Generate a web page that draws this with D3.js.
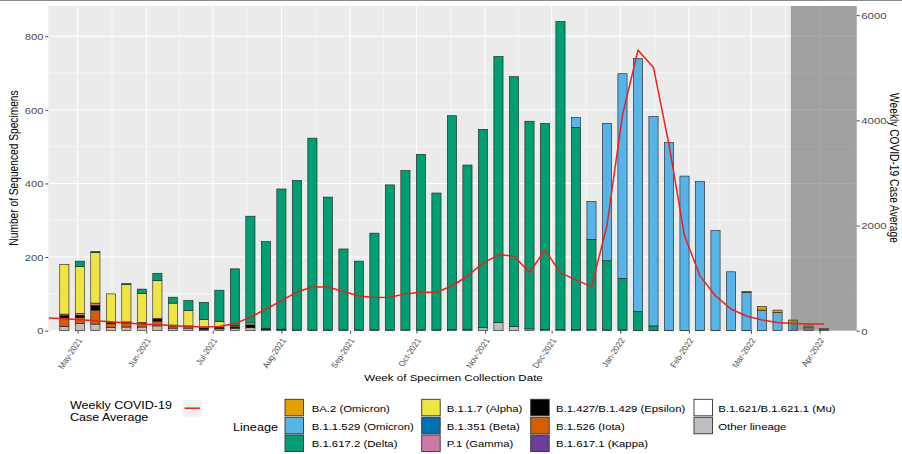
<!DOCTYPE html>
<html><head><meta charset="utf-8">
<script src="https://cdn.jsdelivr.net/npm/d3@7"></script>
<style>
body{margin:0;background:#fff}
svg{display:block}
text{font-family:"Liberation Sans",Arial,Helvetica,sans-serif}
</style>
</head><body>
<svg id="c" width="902" height="454"></svg>
<script>
// ---------------- DATA ----------------
const weeks = ["2021-04-25","2021-05-02","2021-05-09","2021-05-16","2021-05-23","2021-05-30","2021-06-06","2021-06-13","2021-06-20","2021-06-27",
"2021-07-04","2021-07-11","2021-07-18","2021-07-25","2021-08-01","2021-08-08","2021-08-15","2021-08-22","2021-08-29","2021-09-05",
"2021-09-12","2021-09-19","2021-09-26","2021-10-03","2021-10-10","2021-10-17","2021-10-24","2021-10-31","2021-11-07","2021-11-14",
"2021-11-21","2021-11-28","2021-12-05","2021-12-12","2021-12-19","2021-12-26","2022-01-02","2022-01-09","2022-01-16","2022-01-23",
"2022-01-30","2022-02-06","2022-02-13","2022-02-20","2022-02-27","2022-03-06","2022-03-13","2022-03-20","2022-03-27","2022-04-03"];
const caseWeeks = ["2021-04-18"].concat(weeks);

const lineages = ["BA.2 (Omicron)","B.1.1.529 (Omicron)","B.1.617.2 (Delta)","B.1.1.7 (Alpha)","B.1.351 (Beta)","P.1 (Gamma)",
"B.1.427/B.1.429 (Epsilon)","B.1.526 (Iota)","B.1.617.1 (Kappa)","B.1.621/B.1.621.1 (Mu)","Other lineage"];
const lineageColors = ["#E69F00","#56B4E9","#009E73","#F0E442","#0072B2","#CC79A7","#000000","#D55E00","#6A3D9A","#FFFFFF","#BEBEBE"];

const ba2      = [0,0,0,0,0,0,0,0,0,0, 0,0,0,0,0,0,0,0,0,0, 0,0,0,0,0,0,0,0,0,0, 0,0,0,0,0,0,0,0,0,0, 0,0,0,0,2,10,7,9,5,3];
const omicron  = [0,0,0,0,0,0,0,0,0,0, 0,0,0,0,0,0,0,0,0,0, 0,0,0,0,0,0,0,0,0,0, 0,0,0,27,103,373,556,687,569,510, 419,404,271,159,103,56,49,20,8,3];
const delta    = [0,15,3,0,3,12,20,16,27,47, 85,154,290,236,381,406,521,361,220,187, 263,394,433,477,372,581,447,539,723,678, 564,560,837,549,245,188,140,51,12,0, 0,0,0,0,0,0,0,0,0,0];
const alpha    = [135,127,137,77,101,79,103,60,42,22, 15,3,5,0,0,0,0,0,0,0, 0,0,0,0,0,0,0,0,0,0, 0,0,0,0,0,0,0,0,0,0, 0,0,0,0,0,0,0,0,0,0];
const beta     = new Array(50).fill(0);
const gamma    = [4,5,6,1,1,0,1,0,0,0, 0,0,0,0,0,0,0,0,0,0, 0,0,0,0,0,0,0,0,0,0, 0,0,0,0,0,0,0,0,0,0, 0,0,0,0,0,0,0,0,0,0];
const epsilon  = [7,6,13,3,3,2,6,2,2,4, 3,3,8,3,2,0,0,0,0,0, 0,0,0,0,0,0,0,0,0,0, 0,0,0,0,0,0,0,0,0,0, 0,0,0,0,0,0,0,0,0,0];
const iota     = [22,16,38,10,10,10,13,6,4,0, 2,2,0,0,0,0,0,0,0,0, 0,0,0,0,0,0,0,0,0,0, 0,0,0,0,0,0,0,0,0,0, 0,0,0,0,0,0,0,0,0,0];
const kappa    = new Array(50).fill(0);
const mu       = new Array(50).fill(0);
const other    = [12,20,18,9,10,10,13,7,7,4, 5,6,8,3,2,2,2,2,2,2, 2,2,2,2,2,3,3,8,22,12, 5,3,3,3,3,2,2,1,1,1, 1,1,1,1,1,0,0,0,0,0];

const cases = [240,225,207,188,168,148,128,112,98,80, 68,78,135,255,413,566,737,832,832,745,
660,632,636,700,731,731,850,1040,1284,1442, 1420,1105,1537,1099,966,838,2000,4100,5333,5004,
3537,1804,1042,661,413,280,204,156,137,128, 128];

const yTicks = [0,200,400,600,800];
const yMinor = [100,300,500,700];
const y2Ticks = [0,2000,4000,6000];
const xTickDates = ["2021-05-01","2021-06-01","2021-07-01","2021-08-01","2021-09-01","2021-10-01","2021-11-01","2021-12-01","2022-01-01","2022-02-01","2022-03-01","2022-04-01"];
const shadeStart = "2022-03-19";

// ---------------- LAYOUT ----------------
const SX = 1.17; // horizontal stretch of text in the reference
const pL=48.3, pR=856.7, pT=6, pB=330.7;
const parse = d3.timeParse("%Y-%m-%d");
const seriesByLineage = [ba2, omicron, delta, alpha, beta, gamma, epsilon, iota, kappa, mu, other];

const svg = d3.select("#c");
svg.append("rect").attr("width",902).attr("height",454).attr("fill","#fff");
svg.append("line").attr("x1",0).attr("x2",902).attr("y1",0.5).attr("y2",0.5).attr("stroke","#8a8a8a").attr("stroke-width",1.2);

const x = d3.scaleTime().domain([new Date(2021,3,17,18), new Date(2022,3,17,18)]).range([pL,pR]);
const y = d3.scaleLinear().domain([0,882]).range([pB,pT]);
const y2 = d3.scaleLinear().domain([0,882*7]).range([pB,pT]);

// panel
svg.append("rect").attr("x",pL).attr("y",pT).attr("width",pR-pL).attr("height",pB-pT).attr("fill","#EBEBEB");
const grid = svg.append("g");
const xt = xTickDates.map(parse);
const xMinor = [];
for (let i=0;i<xt.length-1;i++) xMinor.push(new Date((+xt[i] + +xt[i+1])/2));
xMinor.push(new Date(+xt[xt.length-1] + (+xt[xt.length-1] - +xt[xt.length-2])/2));
grid.selectAll(".hm").data(yMinor).join("line").attr("x1",pL).attr("x2",pR).attr("y1",d=>y(d)).attr("y2",d=>y(d)).attr("stroke","#fff").attr("stroke-width",0.55);
grid.selectAll(".vm").data(xMinor.filter(d=>x(d)>pL&&x(d)<pR)).join("line").attr("x1",d=>x(d)).attr("x2",d=>x(d)).attr("y1",pT).attr("y2",pB).attr("stroke","#fff").attr("stroke-width",0.55);
grid.selectAll(".hM").data(yTicks).join("line").attr("x1",pL).attr("x2",pR).attr("y1",d=>y(d)).attr("y2",d=>y(d)).attr("stroke","#fff").attr("stroke-width",1.1);
grid.selectAll(".vM").data(xt).join("line").attr("x1",d=>x(d)).attr("x2",d=>x(d)).attr("y1",pT).attr("y2",pB).attr("stroke","#fff").attr("stroke-width",1.1);

// bars
const stackOrder = d3.range(lineages.length).reverse(); // Other at bottom
const segs = [];
weeks.forEach((w,i)=>{
  const d = parse(w);
  let cum = 0;
  stackOrder.forEach(li=>{
    const v = seriesByLineage[li][i];
    if (v>0){ segs.push({d, y0:cum, y1:cum+v, c:lineageColors[li]}); cum+=v; }
  });
});
const bw = d=> x(new Date(+d + 4.15*864e5)) - x(d);
svg.append("g").selectAll("rect").data(segs).join("rect")
  .attr("x",s=>x(s.d)-bw(s.d)/2).attr("width",s=>bw(s.d))
  .attr("y",s=>y(s.y1)).attr("height",s=>y(s.y0)-y(s.y1))
  .attr("fill",s=>s.c).attr("stroke","#1a1a1a").attr("stroke-width",0.6);

// shaded region
svg.append("rect").attr("x",x(parse(shadeStart))).attr("y",pT).attr("width",pR-x(parse(shadeStart))).attr("height",pB-pT)
  .attr("fill","#555").attr("fill-opacity",0.5);

// case line
const line = d3.line().x((d,i)=>x(parse(caseWeeks[i]))).y(d=>y2(d));
svg.append("path").datum(cases).attr("d",line).attr("fill","none").attr("stroke","#f01e1e").attr("stroke-width",1.5).attr("stroke-linejoin","round");

// axes
function styleAxis(g){
  g.select(".domain").remove();
  g.selectAll(".tick line").attr("stroke","#333").attr("stroke-width",0.9);
  g.selectAll(".tick text").attr("fill","#4D4D4D");
}
const ax = svg.append("g").attr("transform",`translate(${pL},0)`).call(d3.axisLeft(y).tickValues(yTicks).tickSize(3).tickFormat(d3.format("d")));
styleAxis(ax);
ax.selectAll(".tick text").attr("x",0).attr("dy","0.34em").attr("font-size",9.6).attr("transform",`translate(-4.8,0) scale(${SX},1)`);

const ax2 = svg.append("g").attr("transform",`translate(${pR},0)`).call(d3.axisRight(y2).tickValues(y2Ticks).tickSize(3).tickFormat(d3.format("d")));
styleAxis(ax2);
ax2.selectAll(".tick text").attr("x",0).attr("dy","0.34em").attr("font-size",9.8).attr("transform",`translate(4.5,0) scale(${SX},1)`);

const axb = svg.append("g").attr("transform",`translate(0,${pB})`).call(d3.axisBottom(x).tickValues(xt).tickSize(3).tickFormat(d3.timeFormat("%b-%Y")));
styleAxis(axb);
axb.selectAll(".tick text").attr("x",0).attr("y",0).attr("dy",null).attr("text-anchor","end").attr("font-size",7.6)
  .attr("transform",`translate(4.5,9.5) scale(${SX},1) rotate(-60)`);

// titles
function stxt(x0,y0,s,size,anchor,rot){
  return svg.append("text").attr("transform",`translate(${x0},${y0}) scale(${SX},1)` + (rot?` rotate(${rot})`:""))
    .attr("font-size",size).attr("text-anchor",anchor||"start").attr("fill","#000").text(s);
}
stxt(453.5,381,"Week of Specimen Collection Date",9.9,"middle");
stxt(17.5,168,"Number of Sequenced Specimens",10.2,"middle",-90);
stxt(889.5,168,"Weekly COVID-19 Case Average",10.2,"middle",90);

// legend: case line
stxt(70,409,"Weekly COVID-19",10.7);
stxt(70,421,"Case Average",10.7);
svg.append("rect").attr("x",182.7).attr("y",400).attr("width",19).attr("height",16.7).attr("fill","#F2F2F2");
svg.append("line").attr("x1",184.5).attr("x2",200).attr("y1",408.2).attr("y2",408.2).attr("stroke","#f01e1e").attr("stroke-width",1.5);

// legend: lineage
stxt(233,430.5,"Lineage",10.8);
const colBoxX = [285,421.7,530.7,694];
const colTxtX = [311.7,446.7,556,718.3];
const rowBoxY = [399.3,417.3,435];
const rowTxtY = [412,429.5,447];
lineages.forEach((name,i)=>{
  const c = Math.floor(i/3), r = i%3;
  svg.append("rect").attr("x",colBoxX[c]).attr("y",rowBoxY[r]).attr("width",18.5).attr("height",16.5)
    .attr("fill",lineageColors[i]).attr("stroke","#333").attr("stroke-width",0.9);
  stxt(colTxtX[c],rowTxtY[r],name,9.7);
});
</script>
</body></html>
